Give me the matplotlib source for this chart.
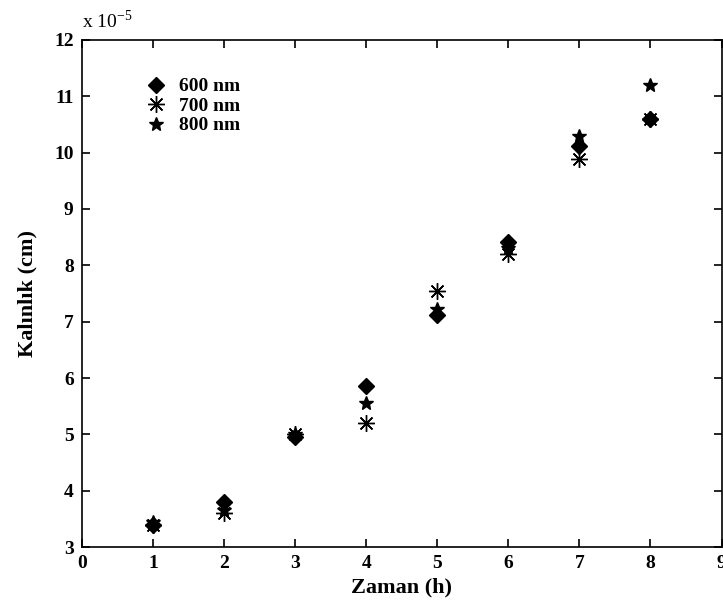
import numpy as np
import matplotlib
matplotlib.use("Agg")
import matplotlib.pyplot as plt

plt.rcParams['font.family'] = ['Liberation Serif', 'DejaVu Serif']
plt.rcParams['font.weight'] = 'bold'

# zaman (h)
hours = [1, 2, 3, 4, 5, 6, 7, 8]
# kalinlik, x 1e-5 cm
t600 = [3.40, 3.80, 4.95, 5.85, 7.12, 8.42, 10.12, 10.60]
t700 = [3.40, 3.60, 5.00, 5.20, 7.55, 8.20, 9.88, 10.60]
t800 = [3.45, 3.65, 5.00, 5.55, 7.22, 8.30, 10.30, 11.20]
labels = ['600 nm', '700 nm', '800 nm']

fig = plt.figure(figsize=(7.23, 6.14), dpi=100)
ax = fig.add_axes([0.1134, 0.109, 0.8846, 0.826])

ax.plot(hours, t600, 'D', ms=8.5, color='black', label=labels[0])
ax.plot(hours, t700, marker=(8, 2, 0), ls='none', ms=12, mew=1.0,
        color='black', label=labels[1])
ax.plot(hours, t800, '*', ms=10, color='black', label=labels[2])

ax.set_xlim(0, 9)
ax.set_ylim(3, 12)
ax.set_xticks(range(0, 10))
ax.set_yticks(range(3, 13))
ax.tick_params(direction='in', top=True, right=True, length=6, width=1.2,
               labelsize=14, pad=6)
for lab in ax.get_xticklabels() + ax.get_yticklabels():
    lab.set_fontweight('bold')
for s in ax.spines.values():
    s.set_linewidth(1.2)

ax.set_xlabel('Zaman (h)', fontsize=16, fontweight='bold', labelpad=4)
ax.set_ylabel('Kalınlık (cm)', fontsize=16, fontweight='bold', labelpad=12)
fig.text(0.113, 0.955, r'x 10$^{\mathregular{-5}}$', fontsize=14,
         fontweight='normal')

handles, labs = ax.get_legend_handles_labels()
leg = ax.legend(handles, labs, loc='upper left', bbox_to_anchor=(0.07, 0.96),
                frameon=False, prop={'size': 14, 'weight': 'bold'},
                handletextpad=0.6, labelspacing=0.1, handlelength=1.2)

fig.savefig('out.png', dpi=100)
